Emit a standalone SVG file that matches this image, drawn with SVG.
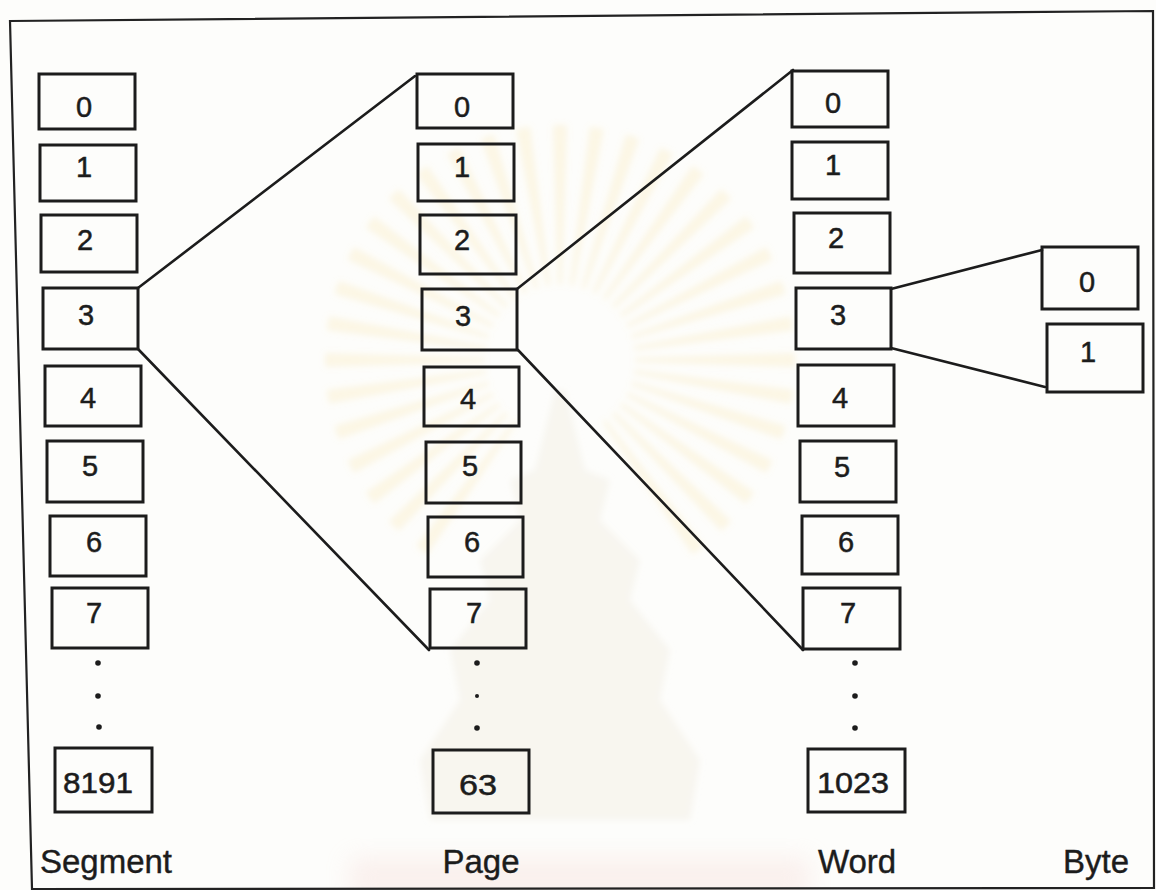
<svg xmlns="http://www.w3.org/2000/svg" xmlns:xlink="http://www.w3.org/1999/xlink" width="1156" height="890" viewBox="0 0 1156 890">
  <style>
    .box { fill: none; stroke: #1c1c1c; stroke-width: 3; }
    .num { font-family: "Liberation Sans", Arial, Helvetica, sans-serif; font-size: 29px; fill: #1c1c1c; stroke: #1c1c1c; stroke-width: 0.5; text-anchor: middle; }
    .lbl { font-family: "Liberation Sans", Arial, Helvetica, sans-serif; font-size: 33px; fill: #1c1c1c; stroke: #1c1c1c; stroke-width: 0.4; text-anchor: middle; }
    .link { fill: none; stroke: #1c1c1c; stroke-width: 2.6; stroke-linecap: round; }
    .dot { fill: #1c1c1c; }
    .frame { fill: none; stroke: #222; stroke-width: 2.2; }
    .ray { fill: #f4d98a; opacity: 0.2; }
  </style>
  <defs>
    <polygon id="ray" points="558,285 562,285 567,125 553,125"/>
    <filter id="soft" x="-10%" y="-10%" width="120%" height="120%">
      <feGaussianBlur stdDeviation="3"/>
    </filter>
    <filter id="softer" x="-20%" y="-50%" width="140%" height="200%">
      <feGaussianBlur stdDeviation="12"/>
    </filter>
  </defs>

  <rect x="0" y="0" width="1156" height="890" fill="#fdfdfb"/>

  <!-- faint background seal -->
  <g id="seal">
    <g filter="url(#soft)">
      <g class="ray">
        <use xlink:href="#ray" transform="rotate(-144 560 360)"/>
        <use xlink:href="#ray" transform="rotate(-135 560 360)"/>
        <use xlink:href="#ray" transform="rotate(-126 560 360)"/>
        <use xlink:href="#ray" transform="rotate(-117 560 360)"/>
        <use xlink:href="#ray" transform="rotate(-108 560 360)"/>
        <use xlink:href="#ray" transform="rotate(-99 560 360)"/>
        <use xlink:href="#ray" transform="rotate(-90 560 360)"/>
        <use xlink:href="#ray" transform="rotate(-81 560 360)"/>
        <use xlink:href="#ray" transform="rotate(-72 560 360)"/>
        <use xlink:href="#ray" transform="rotate(-63 560 360)"/>
        <use xlink:href="#ray" transform="rotate(-54 560 360)"/>
        <use xlink:href="#ray" transform="rotate(-45 560 360)"/>
        <use xlink:href="#ray" transform="rotate(-36 560 360)"/>
        <use xlink:href="#ray" transform="rotate(-27 560 360)"/>
        <use xlink:href="#ray" transform="rotate(-18 560 360)"/>
        <use xlink:href="#ray" transform="rotate(-9 560 360)"/>
        <use xlink:href="#ray" transform="rotate(0 560 360)"/>
        <use xlink:href="#ray" transform="rotate(9 560 360)"/>
        <use xlink:href="#ray" transform="rotate(18 560 360)"/>
        <use xlink:href="#ray" transform="rotate(27 560 360)"/>
        <use xlink:href="#ray" transform="rotate(36 560 360)"/>
        <use xlink:href="#ray" transform="rotate(45 560 360)"/>
        <use xlink:href="#ray" transform="rotate(54 560 360)"/>
        <use xlink:href="#ray" transform="rotate(63 560 360)"/>
        <use xlink:href="#ray" transform="rotate(72 560 360)"/>
        <use xlink:href="#ray" transform="rotate(81 560 360)"/>
        <use xlink:href="#ray" transform="rotate(90 560 360)"/>
        <use xlink:href="#ray" transform="rotate(99 560 360)"/>
        <use xlink:href="#ray" transform="rotate(108 560 360)"/>
        <use xlink:href="#ray" transform="rotate(117 560 360)"/>
        <use xlink:href="#ray" transform="rotate(126 560 360)"/>
        <use xlink:href="#ray" transform="rotate(135 560 360)"/>
        <use xlink:href="#ray" transform="rotate(144 560 360)"/>
      </g>
      <polygon points="555,390 565,390 585,470 610,480 600,520 640,560 630,600 670,650 660,700 700,760 690,820 430,820 420,760 460,700 450,650 490,600 480,560 520,520 510,480 535,470"
               fill="#ece4d4" opacity="0.3"/>
    </g>
    <rect x="350" y="858" width="460" height="40" fill="#f2c9c2" opacity="0.25" filter="url(#softer)"/>
  </g>

  <!-- outer frame -->
  <polygon class="frame" points="10,21 1153,11 1154,888 32,889"/>

  <!-- connectors -->
  <g id="connectors">
    <line class="link" x1="138" y1="288" x2="415" y2="76"/>
    <line class="link" x1="138" y1="349" x2="429" y2="650"/>
    <line class="link" x1="517" y1="289" x2="793" y2="70"/>
    <line class="link" x1="518" y1="350" x2="803" y2="650"/>
    <line class="link" x1="891" y1="289" x2="1042" y2="250"/>
    <line class="link" x1="891" y1="348" x2="1045" y2="387"/>
  </g>

  <!-- segment table -->
  <g id="seg-0"><rect class="box" x="39" y="74" width="96" height="55"/><text class="num" x="84" y="117">0</text></g>
  <g id="seg-1"><rect class="box" x="40" y="145" width="96" height="56"/><text class="num" x="84" y="177">1</text></g>
  <g id="seg-2"><rect class="box" x="41" y="215" width="96" height="57"/><text class="num" x="85" y="250">2</text></g>
  <g id="seg-3"><rect class="box" x="43" y="288" width="95" height="61"/><text class="num" x="86" y="325">3</text></g>
  <g id="seg-4"><rect class="box" x="45" y="366" width="96" height="60"/><text class="num" x="88" y="408">4</text></g>
  <g id="seg-5"><rect class="box" x="47" y="441" width="96" height="61"/><text class="num" x="90" y="476">5</text></g>
  <g id="seg-6"><rect class="box" x="50" y="516" width="96" height="60"/><text class="num" x="94" y="552">6</text></g>
  <g id="seg-7"><rect class="box" x="52" y="588" width="96" height="60"/><text class="num" x="94" y="623">7</text></g>
  <g id="seg-dots"><circle class="dot" cx="98" cy="663" r="2.8"/><circle class="dot" cx="98" cy="696" r="2.8"/><circle class="dot" cx="99" cy="727" r="2.8"/></g>
  <g id="seg-8191"><rect class="box" x="55" y="748" width="97" height="64"/><text class="num" x="98" y="793" textLength="70" lengthAdjust="spacingAndGlyphs">8191</text></g>
  <g id="seg-label"><text class="lbl" x="106" y="873">Segment</text></g>

  <!-- page table -->
  <g id="page-0"><rect class="box" x="417" y="74" width="96" height="54"/><text class="num" x="462" y="117">0</text></g>
  <g id="page-1"><rect class="box" x="418" y="144" width="96" height="57"/><text class="num" x="462" y="177">1</text></g>
  <g id="page-2"><rect class="box" x="420" y="215" width="96" height="59"/><text class="num" x="462" y="250">2</text></g>
  <g id="page-3"><rect class="box" x="422" y="289" width="95" height="61"/><text class="num" x="463" y="326">3</text></g>
  <g id="page-4"><rect class="box" x="424" y="367" width="95" height="59"/><text class="num" x="468" y="409">4</text></g>
  <g id="page-5"><rect class="box" x="426" y="442" width="95" height="61"/><text class="num" x="470" y="476">5</text></g>
  <g id="page-6"><rect class="box" x="428" y="517" width="95" height="60"/><text class="num" x="472" y="552">6</text></g>
  <g id="page-7"><rect class="box" x="430" y="589" width="96" height="59"/><text class="num" x="474" y="623">7</text></g>
  <g id="page-dots"><circle class="dot" cx="477" cy="663" r="2.8"/><circle class="dot" cx="477" cy="696" r="2"/><circle class="dot" cx="477" cy="728" r="2.8"/></g>
  <g id="page-63"><rect class="box" x="433" y="750" width="96" height="63"/><text class="num" x="478" y="795" textLength="38" lengthAdjust="spacingAndGlyphs">63</text></g>
  <g id="page-label"><text class="lbl" x="481" y="873">Page</text></g>

  <!-- word table -->
  <g id="word-0"><rect class="box" x="792" y="71" width="96" height="56"/><text class="num" x="833" y="113">0</text></g>
  <g id="word-1"><rect class="box" x="792" y="142" width="96" height="57"/><text class="num" x="833" y="175">1</text></g>
  <g id="word-2"><rect class="box" x="794" y="213" width="96" height="60"/><text class="num" x="836" y="248">2</text></g>
  <g id="word-3"><rect class="box" x="796" y="288" width="95" height="61"/><text class="num" x="838" y="325">3</text></g>
  <g id="word-4"><rect class="box" x="798" y="365" width="96" height="61"/><text class="num" x="840" y="408">4</text></g>
  <g id="word-5"><rect class="box" x="800" y="441" width="96" height="61"/><text class="num" x="842" y="477">5</text></g>
  <g id="word-6"><rect class="box" x="802" y="516" width="96" height="58"/><text class="num" x="846" y="552">6</text></g>
  <g id="word-7"><rect class="box" x="803" y="588" width="97" height="61"/><text class="num" x="848" y="623">7</text></g>
  <g id="word-dots"><circle class="dot" cx="855" cy="663" r="2.8"/><circle class="dot" cx="855" cy="696" r="2.8"/><circle class="dot" cx="855" cy="728" r="2.8"/></g>
  <g id="word-1023"><rect class="box" x="808" y="749" width="97" height="63"/><text class="num" x="853" y="793" textLength="72" lengthAdjust="spacingAndGlyphs">1023</text></g>
  <g id="word-label"><text class="lbl" x="857" y="873">Word</text></g>

  <!-- byte table -->
  <g id="byte-0"><rect class="box" x="1042" y="247" width="96" height="62"/><text class="num" x="1087" y="292">0</text></g>
  <g id="byte-1"><rect class="box" x="1047" y="324" width="96" height="68"/><text class="num" x="1088" y="362">1</text></g>
  <g id="byte-label"><text class="lbl" x="1096" y="873">Byte</text></g>
</svg>
